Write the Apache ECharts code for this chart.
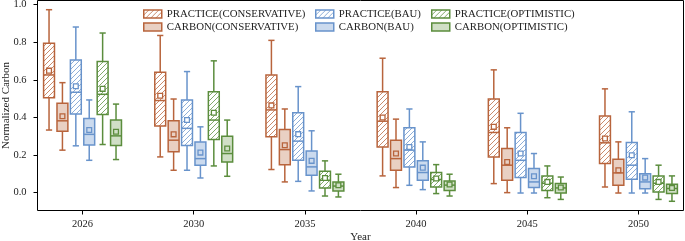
<!DOCTYPE html>
<head>
    <meta charset="utf-8">
    <title>Normalized Carbon box plots</title>
    <style>
        html, body {
            width: 100%;
            height: 100%;
            margin: 0;
            background: #fff;
        }
        #main {
            width: 685px;
            height: 241px;
        }
    </style>
</head>
<body>
<div id="main"></div>
<script src="https://cdn.jsdelivr.net/npm/echarts@6/dist/echarts.min.js"></script>
<script type="text/javascript">
  var years = ['2026', '2030', '2035', '2040', '2045', '2050'];

  // each row: [min, Q1, median, Q3, max, mean]
  var practiceConservative = [
    [0.333, 0.505, 0.626, 0.795, 0.973, 0.649],
    [0.190, 0.354, 0.490, 0.641, 0.836, 0.515],
    [0.123, 0.297, 0.440, 0.626, 0.810, 0.464],
    [0.089, 0.243, 0.380, 0.537, 0.715, 0.400],
    [0.048, 0.190, 0.320, 0.498, 0.653, 0.350],
    [0.030, 0.155, 0.265, 0.407, 0.552, 0.288]
  ];
  var carbonConservative = [
    [0.226, 0.327, 0.382, 0.475, 0.585, 0.406],
    [0.119, 0.217, 0.279, 0.382, 0.498, 0.310],
    [0.057, 0.149, 0.229, 0.336, 0.445, 0.252],
    [0.027, 0.119, 0.181, 0.279, 0.391, 0.208],
    [0.000, 0.066, 0.146, 0.235, 0.345, 0.163],
    [-0.002, 0.039, 0.105, 0.178, 0.270, 0.119]
  ];
  var practiceBau = [
    [0.249, 0.418, 0.534, 0.706, 0.881, 0.566],
    [0.119, 0.251, 0.342, 0.493, 0.644, 0.386],
    [0.060, 0.172, 0.274, 0.425, 0.564, 0.311],
    [0.039, 0.137, 0.226, 0.345, 0.445, 0.243],
    [-0.002, 0.080, 0.172, 0.320, 0.422, 0.208],
    [-0.002, 0.071, 0.146, 0.267, 0.430, 0.199]
  ];
  var carbonBau = [
    [0.172, 0.253, 0.310, 0.395, 0.493, 0.333],
    [0.078, 0.146, 0.181, 0.270, 0.350, 0.213],
    [0.009, 0.092, 0.137, 0.222, 0.329, 0.169],
    [0.016, 0.066, 0.107, 0.169, 0.270, 0.133],
    [-0.002, 0.027, 0.057, 0.128, 0.208, 0.087],
    [-0.002, 0.021, 0.057, 0.101, 0.181, 0.080]
  ];
  var practiceOptimistic = [
    [0.256, 0.416, 0.523, 0.697, 0.849, 0.552],
    [0.142, 0.283, 0.386, 0.537, 0.701, 0.425],
    [-0.018, 0.025, 0.066, 0.114, 0.169, 0.078],
    [-0.005, 0.030, 0.070, 0.107, 0.149, 0.075],
    [-0.027, 0.012, 0.050, 0.089, 0.142, 0.057],
    [-0.036, 0.003, 0.050, 0.089, 0.146, 0.057]
  ];
  var carbonOptimistic = [
    [0.176, 0.251, 0.302, 0.386, 0.471, 0.324],
    [0.087, 0.163, 0.208, 0.300, 0.386, 0.235],
    [-0.023, 0.009, 0.035, 0.057, 0.098, 0.039],
    [-0.018, 0.012, 0.040, 0.062, 0.098, 0.043],
    [-0.036, -0.002, 0.025, 0.048, 0.083, 0.027],
    [-0.046, -0.005, 0.022, 0.044, 0.089, 0.025]
  ];
  var yTicks = [0, 0.2, 0.4, 0.6, 0.8, 1.0];

  var FONT = '"Liberation Serif", "DejaVu Serif", serif';
  var ORANGE = '#b8643c', BLUE = '#6893cb', GREEN = '#5b8d3d';

  // diagonal hatch tile used as fill for the PRACTICE boxes
  function hatch(color) {
    var s = 5;
    var c = document.createElement('canvas');
    c.width = s; c.height = s;
    var ctx = c.getContext('2d');
    ctx.fillStyle = '#fff';
    ctx.fillRect(0, 0, s, s);
    ctx.strokeStyle = color;
    ctx.globalAlpha = 0.75;
    ctx.lineWidth = 1;
    ctx.beginPath();
    ctx.moveTo(-1, s + 1); ctx.lineTo(s + 1, -1);
    ctx.moveTo(-1, 1); ctx.lineTo(1, -1);
    ctx.moveTo(s - 1, s + 1); ctx.lineTo(s + 1, s - 1);
    ctx.stroke();
    return {image: c, repeat: 'repeat'};
  }

  var groups = [
    {name: 'PRACTICE(CONSERVATIVE)', rows: practiceConservative, color: ORANGE, fill: hatch(ORANGE), inner: '#fff'},
    {name: 'CARBON(CONSERVATIVE)', rows: carbonConservative, color: ORANGE, fill: '#e9d0c3', inner: '#e9d0c3'},
    {name: 'PRACTICE(BAU)', rows: practiceBau, color: BLUE, fill: hatch(BLUE), inner: '#fff'},
    {name: 'CARBON(BAU)', rows: carbonBau, color: BLUE, fill: '#cbdaee', inner: '#cbdaee'},
    {name: 'PRACTICE(OPTIMISTIC)', rows: practiceOptimistic, color: GREEN, fill: hatch(GREEN), inner: '#fff'},
    {name: 'CARBON(OPTIMISTIC)', rows: carbonOptimistic, color: GREEN, fill: '#d0dfc6', inner: '#d0dfc6'}
  ];

  function makeRender(slot, g) {
    return function (params, api) {
      var unit = api.size([1, 0])[0];
      var cx = api.coord([api.value(0), 0])[0] + (slot - 2.5) * unit * 0.1205;
      var half = unit * 0.049, cap = unit * 0.028;
      var y = function (d) { return api.coord([0, api.value(d)])[1]; };
      var yMin = y(1), yQ1 = y(2), yMed = y(3), yQ3 = y(4), yMax = y(5), yMean = y(6);
      var ls = {stroke: g.color, lineWidth: 1.5};
      return {
        type: 'group',
        children: [
          {type: 'line', shape: {x1: cx, y1: yMin, x2: cx, y2: yQ1}, style: ls},
          {type: 'line', shape: {x1: cx, y1: yQ3, x2: cx, y2: yMax}, style: ls},
          {type: 'line', shape: {x1: cx - cap, y1: yMin, x2: cx + cap, y2: yMin}, style: ls},
          {type: 'line', shape: {x1: cx - cap, y1: yMax, x2: cx + cap, y2: yMax}, style: ls},
          {type: 'rect', shape: {x: cx - half, y: yQ3, width: half * 2, height: yQ1 - yQ3},
            style: {fill: g.fill, stroke: g.color, lineWidth: 1.5}},
          {type: 'line', shape: {x1: cx - half, y1: yMed, x2: cx + half, y2: yMed}, style: ls},
          {type: 'rect', shape: {x: cx - 2.4, y: yMean - 2.4, width: 4.8, height: 4.8},
            style: {fill: g.inner, stroke: g.color, lineWidth: 1.3}}
        ]
      };
    };
  }

  var series = groups.map(function (g, i) {
    return {
      name: g.name,
      type: 'custom',
      renderItem: makeRender(i, g),
      encode: {x: 0, y: [1, 2, 3, 4, 5, 6]},
      itemStyle: {color: g.fill, borderColor: g.color, borderWidth: 1.5},
      data: g.rows.map(function (r, k) { return [k].concat(r); })
    };
  });

  function legendAt(left, names) {
    return {
      left: left,
      top: 8,
      orient: 'vertical',
      padding: 0,
      itemGap: 1,
      itemWidth: 18,
      itemHeight: 8,
      icon: 'rect',
      selectedMode: false,
      itemStyle: {borderWidth: 1.5},
      textStyle: {fontFamily: FONT, fontSize: 10.8, color: '#222', lineHeight: 12},
      data: names
    };
  }

  var myChart = echarts.init(document.getElementById('main'));
  var option = {
    animation: false,
    backgroundColor: '#fff',
    grid: {
      left: 37.5, right: 1.5, top: 0.5, bottom: 30.5,
      outerBoundsMode: 'none',
      containLabel: false,
      show: true, borderColor: '#000', borderWidth: 1
    },
    legend: [
      legendAt(143, [groups[0].name, groups[1].name]),
      legendAt(315, [groups[2].name, groups[3].name]),
      legendAt(431, [groups[4].name, groups[5].name])
    ],
    xAxis: {
      type: 'value',
      min: -0.405,
      max: 5.405,
      name: 'Year',
      nameLocation: 'middle',
      nameGap: 21,
      nameMoveOverlap: false,
      nameTextStyle: {fontFamily: FONT, fontSize: 11, color: '#222'},
      axisLine: {show: false, onZero: false},
      splitLine: {show: false},
      axisTick: {show: true, length: 4, lineStyle: {color: '#000'}, customValues: [0, 1, 2, 3, 4, 5]},
      axisLabel: {
        customValues: [0, 1, 2, 3, 4, 5],
        formatter: function (v) { return years[Math.round(v)]; },
        margin: 8,
        fontFamily: FONT, fontSize: 10.5, color: '#222'
      }
    },
    yAxis: {
      type: 'value',
      min: -0.095,
      max: 1.022,
      name: 'Normalized Carbon',
      nameLocation: 'middle',
      nameGap: 26,
      nameMoveOverlap: false,
      nameTextStyle: {fontFamily: FONT, fontSize: 11, color: '#222'},
      axisLine: {show: false, onZero: false},
      splitLine: {show: false},
      axisTick: {show: true, length: 4, lineStyle: {color: '#000'}, customValues: yTicks},
      axisLabel: {
        customValues: yTicks,
        formatter: function (v) { return v.toFixed(1); },
        margin: 11,
        fontFamily: FONT, fontSize: 10.5, color: '#222'
      }
    },
    series: series
  };
  myChart.setOption(option);
</script>
</body>
